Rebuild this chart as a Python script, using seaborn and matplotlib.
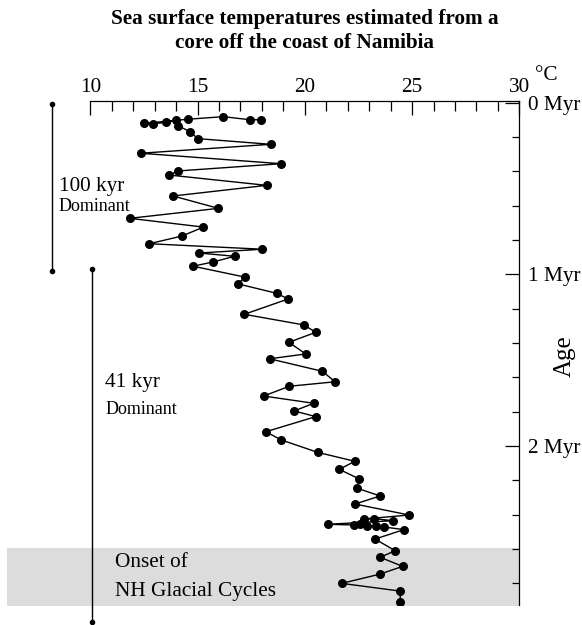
import matplotlib
matplotlib.use("Agg")
import matplotlib.pyplot as plt
import seaborn as sns
import pandas as pd
from matplotlib.ticker import MultipleLocator, FixedLocator

# ---- data ----
temperature_c = [17.96, 17.45, 16.20, 14.54, 12.52, 12.94, 13.53, 13.98, 14.10, 14.65,
                 15.01, 18.41, 12.35, 18.89, 14.10, 13.68, 18.22, 13.86, 15.97, 11.84,
                 15.27, 14.28, 12.75, 18.02, 15.07, 16.73, 15.73, 14.79, 17.20, 16.89,
                 18.70, 19.22, 17.18, 19.96, 20.51, 19.26, 20.04, 18.36, 20.82, 21.41,
                 19.28, 18.08, 20.41, 19.51, 20.51, 18.18, 18.91, 20.60, 22.33, 21.61,
                 22.54, 22.42, 23.51, 22.34, 24.87, 22.77, 23.21, 24.13, 21.07, 22.31,
                 22.57, 22.89, 23.32, 23.71, 24.62, 23.27, 24.22, 23.51, 24.56, 23.51,
                 21.72, 24.45, 24.45]
age_myr = [0.100, 0.100, 0.082, 0.097, 0.121, 0.123, 0.115, 0.101, 0.136, 0.169,
           0.210, 0.243, 0.295, 0.356, 0.398, 0.422, 0.482, 0.544, 0.616, 0.674,
           0.725, 0.777, 0.822, 0.854, 0.876, 0.895, 0.928, 0.953, 1.016, 1.056,
           1.111, 1.144, 1.233, 1.295, 1.338, 1.396, 1.464, 1.492, 1.565, 1.626,
           1.652, 1.709, 1.751, 1.796, 1.829, 1.917, 1.965, 2.037, 2.089, 2.136,
           2.192, 2.245, 2.291, 2.338, 2.402, 2.425, 2.423, 2.435, 2.456, 2.460,
           2.454, 2.466, 2.466, 2.472, 2.487, 2.542, 2.610, 2.648, 2.701, 2.746,
           2.800, 2.845, 2.907]

temp_ticks = [10, 15, 20, 25, 30]
temp_tick_labels = ["10", "15", "20", "25", "30"]
age_ticks = [0, 1, 2]
age_tick_labels = ["0 Myr", "1 Myr", "2 Myr"]
glacial_band_myr = [2.595, 2.93]
range_100kyr_temp = [8.23, 8.23]
range_100kyr_myr = [0.008, 0.983]
range_41kyr_temp = [10.07, 10.07]
range_41kyr_myr = [0.969, 3.025]

df = pd.DataFrame({"temp": temperature_c, "age": age_myr})

sns.set_style("ticks")
plt.rcParams["font.family"] = ["Liberation Serif", "DejaVu Serif"]
plt.rcParams["text.color"] = "black"
plt.rcParams["axes.labelcolor"] = "black"
plt.rcParams["xtick.color"] = "black"
plt.rcParams["ytick.color"] = "black"

FS = 15.3
fig = plt.figure(figsize=(5.82, 6.25), dpi=100)
ax = fig.add_axes([90.3 / 582, 1 - 605 / 625, 429 / 582, (605 - 100.7) / 625])

# shaded onset band (extends left beyond the axes)
band = ax.axhspan(glacial_band_myr[0], glacial_band_myr[1], xmin=-0.194, xmax=1.0,
                  color="#dcdcdc", zorder=0, lw=0)
band.set_clip_on(False)

sns.lineplot(data=df, x="temp", y="age", sort=False, estimator=None, ax=ax,
             color="black", linewidth=1.0, marker="o", markersize=6.5,
             markeredgewidth=0, zorder=3)

# range bars on the left
ax.plot(range_100kyr_temp, range_100kyr_myr, color="black", lw=1.0, marker="o",
        markersize=3, clip_on=False)
ax.plot(range_41kyr_temp, range_41kyr_myr, color="black", lw=1.0, marker="o",
        markersize=3, clip_on=False)

ax.set_xlim(10, 30)
ax.set_ylim(2.926, -0.011)
ax.set_xlabel("")
ax.set_ylabel("")

sns.despine(ax=ax, top=False, right=False, left=True, bottom=True)
for s in ("top", "right"):
    ax.spines[s].set_linewidth(0.9)
    ax.spines[s].set_color("black")

ax.xaxis.tick_top()
ax.xaxis.set_major_locator(FixedLocator(temp_ticks))
ax.set_xticklabels(temp_tick_labels)
ax.xaxis.set_minor_locator(MultipleLocator(1))
ax.tick_params(axis="x", which="major", direction="in", length=10, width=0.9,
               labelsize=FS, pad=3, colors="black")
ax.tick_params(axis="x", which="minor", direction="in", length=7, width=0.9,
               colors="black")

ax.yaxis.tick_right()
ax.yaxis.set_major_locator(FixedLocator(age_ticks))
ax.set_yticklabels(age_tick_labels)
ax.yaxis.set_minor_locator(MultipleLocator(0.2))
ax.tick_params(axis="y", which="major", direction="in", length=10, width=0.9,
               labelsize=FS, pad=6, colors="black")
ax.tick_params(axis="y", which="minor", direction="in", length=5, width=0.9,
               colors="black")

# annotations
ax.text(8.54, 0.49, "100 kyr", ha="left", va="center", fontsize=FS, clip_on=False)
ax.text(8.50, 0.608, "Dominant", ha="left", va="center", fontsize=13, clip_on=False)
ax.text(10.69, 1.63, "41 kyr", ha="left", va="center", fontsize=FS, clip_on=False)
ax.text(10.69, 1.785, "Dominant", ha="left", va="center", fontsize=13, clip_on=False)
ax.text(11.15, 2.681, "Onset of", ha="left", va="center", fontsize=FS, clip_on=False)
ax.text(11.15, 2.845, "NH Glacial Cycles", ha="left", va="center", fontsize=FS,
        clip_on=False)

fig.text(304.8 / 582, 1 - 19 / 625, "Sea surface temperatures estimated from a",
         ha="center", va="center", fontsize=FS, fontweight="bold")
fig.text(304.8 / 582, 1 - 43 / 625, "core off the coast of Namibia",
         ha="center", va="center", fontsize=FS, fontweight="bold")
fig.text(546 / 582, 1 - 75 / 625, "°C", ha="center", va="center", fontsize=FS)
fig.text(565 / 582, 1 - 356 / 625, "Age", ha="center", va="center", rotation=90,
         fontsize=18)

fig.savefig("out.png", dpi=100)
